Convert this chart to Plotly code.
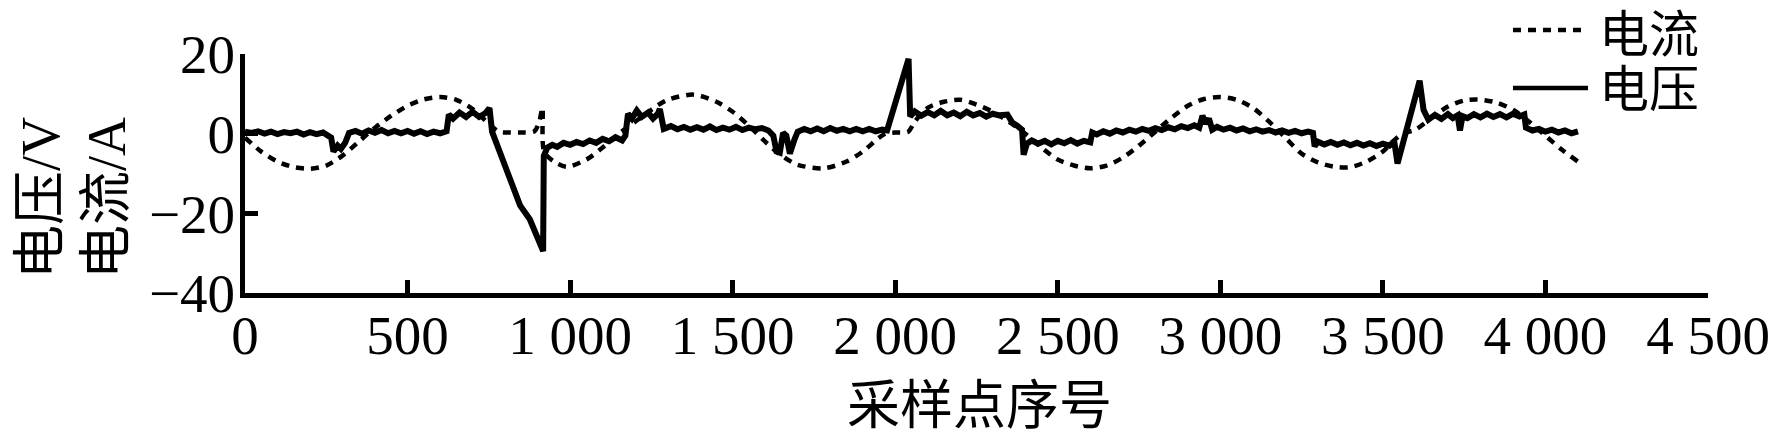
import plotly.graph_objects as go

# ---------------- data ----------------
voltage_n = [0, 20, 40, 60, 80, 100, 120, 140, 160, 180, 200, 220, 240, 255, 265, 272, 285, 295, 308, 320,
             340, 360, 380, 400, 420, 440, 460, 480, 500, 520, 540, 560, 580, 600, 620, 627, 640, 660, 680, 700,
             720, 740, 752, 760, 790, 811, 830, 846, 876, 900, 917, 919, 930, 945, 960, 980, 1000, 1020, 1040, 1060,
             1080, 1100, 1120, 1140, 1160, 1170, 1178, 1190, 1205, 1220, 1240, 1255, 1270, 1276, 1288, 1310, 1330, 1350, 1370, 1390,
             1410, 1430, 1450, 1470, 1490, 1510, 1530, 1550, 1570, 1590, 1610, 1625, 1635, 1645, 1655, 1665, 1676, 1690, 1700, 1720,
             1740, 1760, 1780, 1800, 1820, 1840, 1860, 1880, 1900, 1920, 1940, 1960, 1975, 2041, 2046, 2060, 2080, 2100, 2120, 2140,
             2160, 2180, 2200, 2220, 2240, 2260, 2280, 2300, 2320, 2345, 2360, 2375, 2390, 2395, 2405, 2420, 2440, 2460, 2480, 2500,
             2520, 2540, 2560, 2580, 2600, 2606, 2620, 2640, 2660, 2680, 2700, 2720, 2740, 2760, 2780, 2800, 2820, 2840, 2860, 2880,
             2900, 2920, 2935, 2945, 2955, 2965, 2975, 2990, 3010, 3030, 3050, 3070, 3090, 3110, 3130, 3150, 3170, 3190, 3210, 3230,
             3250, 3270, 3285, 3290, 3300, 3320, 3340, 3360, 3380, 3400, 3420, 3440, 3460, 3480, 3500, 3520, 3535, 3545, 3613, 3625,
             3640, 3660, 3680, 3700, 3715, 3730, 3737, 3745, 3760, 3780, 3800, 3820, 3840, 3860, 3880, 3900, 3920, 3935, 3940, 3960,
             3980, 4000, 4020, 4040, 4060, 4080, 4100]
voltage_v = [0.5, 0.2, 0.6, 0.0, 0.5, -0.1, 0.4, 0.1, 0.5, -0.2, 0.4, -0.1, 0.3, -0.6, -1.0, -4.5, -3.0, -3.8, -2.3, 0.2,
             0.7, 0.0, 0.8, 0.2, 0.9, 0.1, 0.7, 0.1, 0.7, 0.0, 0.6, -0.1, 0.5, 0.1, 0.6, 4.8, 3.8, 5.3, 4.2, 5.5,
             4.2, 5.2, 6.4, 0.5, -6.0, -11.4, -15.5, -18.0, -21.5, -26.0, -29.5, -5.6, -3.5, -2.8, -3.3, -2.3, -2.8, -2.1, -2.6, -1.7,
             -2.3, -1.3, -1.9, -0.9, -1.7, -0.5, 5.0, 3.8, 5.8, 4.2, 5.3, 3.8, 5.0, 6.2, 1.2, 1.9, 1.1, 1.7, 1.0, 1.6,
             1.0, 1.8, 0.9, 1.5, 1.0, 1.7, 0.9, 1.5, 1.1, 1.4, 0.8, -0.5, -4.5, -4.8, 0.2, -0.5, -5.0, -1.5, 0.5, 1.2,
             0.6, 1.3, 0.6, 1.4, 0.7, 1.2, 0.6, 1.2, 0.6, 1.2, 0.6, 1.0, 0.8, 18.8, 4.3, 5.6, 4.5, 5.4, 4.6, 5.7,
             4.6, 5.3, 4.4, 5.5, 4.6, 5.2, 4.3, 5.0, 4.6, 4.8, 2.8, 2.0, 1.0, -5.3, -2.5, -1.7, -2.5, -1.8, -2.7, -1.8,
             -2.4, -1.6, -2.5, -1.8, -2.2, 0.3, -0.2, 0.6, 0.0, 0.8, 0.3, 1.0, 0.5, 1.2, 0.7, 1.4, 0.9, 1.6, 1.1, 1.9,
             1.4, 2.1, 1.5, 4.5, 2.5, 3.8, 1.0, 1.7, 1.0, 1.5, 0.8, 1.3, 0.6, 1.1, 0.5, 0.9, 0.3, 0.8, 0.2, 0.7,
             0.1, 0.5, 0.2, -3.2, -2.0, -2.7, -2.1, -2.8, -2.2, -2.9, -2.3, -3.0, -2.4, -3.1, -2.5, -3.0, -2.0, -7.5, 13.3, 6.0,
             3.5, 4.7, 3.7, 4.9, 3.9, 4.6, 0.8, 4.4, 3.9, 4.9, 4.1, 5.0, 4.2, 4.9, 4.1, 5.0, 4.3, 4.8, 1.5, 0.8,
             1.2, 0.5, 1.0, 0.3, 0.8, 0.1, 0.6]

current_n = [0, 50, 100, 150, 200, 250, 300, 350, 400, 450, 500, 550, 600, 650, 700, 750, 780, 800, 850, 890,
             905, 915, 920, 950, 990, 1050, 1100, 1150, 1200, 1250, 1300, 1380, 1450, 1500, 1550, 1600, 1650, 1700, 1780, 1850,
             1900, 1950, 1970, 2000, 2040, 2060, 2100, 2150, 2200, 2250, 2300, 2350, 2400, 2450, 2500, 2550, 2600, 2650, 2700, 2750,
             2800, 2850, 2900, 2950, 3000, 3050, 3100, 3150, 3200, 3250, 3300, 3350, 3400, 3450, 3500, 3530, 3560, 3600, 3650, 3700,
             3750, 3790, 3850, 3900, 3950, 4000, 4050, 4100]
current_v = [-1.0, -4.5, -7.0, -8.4, -8.8, -8.0, -5.5, -2.0, 1.5, 4.5, 7.0, 8.6, 9.2, 8.5, 6.2, 2.5, 0.5, 0.3, 0.3, 0.6,
             3.0, 6.5, -4.5, -7.0, -8.3, -6.5, -3.5, 0.0, 3.0, 6.0, 8.5, 9.8, 8.0, 5.5, 2.0, -2.0, -5.5, -7.8, -8.7, -7.0,
             -4.5, -1.0, 0.0, 0.3, 0.5, 3.0, 6.5, 8.0, 8.5, 7.3, 5.5, 3.0, 0.0, -3.5, -6.5, -8.0, -8.7, -8.0, -6.0, -3.0,
             0.5, 4.0, 7.0, 8.7, 9.2, 8.5, 6.5, 3.0, -1.0, -5.0, -7.2, -8.3, -8.4, -7.0, -4.5, -2.0, 0.0, 1.0, 4.0, 6.8,
             8.3, 8.6, 7.8, 6.0, 3.0, -0.5, -4.0, -7.0]

x_tickvals = [0, 500, 1000, 1500, 2000, 2500, 3000, 3500, 4000, 4500]
x_ticktext = ["0", "500", "1 000", "1 500", "2 000", "2 500", "3 000", "3 500", "4 000", "4 500"]
y_tickvals = [-40, -20, 0, 20]
y_ticktext = ["\u221240", "\u221220", "0", "20"]
series_names = ["电流", "电压"]
y_title_lines = ["电压/V", "电流/A"]
x_title = "采样点序号"

# ---------------- figure ----------------
# The page body has an 8 px margin, so the figure is made 8 px smaller and all
# page-pixel positions below are shifted by that offset.
OFF = 8
FONT = "Liberation Serif, Times New Roman, serif"
CJK = "Liberation Serif, Noto Sans CJK SC, sans-serif"
W, H = 1778 - OFF, 442 - OFF
AX_L, AX_R, AX_T, AX_B = 245, 1708, 54, 293   # page pixel positions of the plot area
L, T = AX_L - OFF, AX_T - OFF
R, B = 1778 - AX_R, 442 - AX_B
pw, ph = W - L - R, H - T - B

def px_x(p):
    return (p - OFF - L) / pw

def px_y(p):
    return (H - B - (p - OFF)) / ph

fig = go.Figure()
fig.add_trace(go.Scatter(x=current_n, y=current_v, mode="lines", name=series_names[0],
                         line=dict(color="black", width=4.5, dash="8px,7px", shape="spline", smoothing=0.8),
                         showlegend=False))
fig.add_trace(go.Scatter(x=voltage_n, y=voltage_v, mode="lines", name=series_names[1],
                         line=dict(color="black", width=6), showlegend=False))

axis_common = dict(showline=True, linecolor="black", linewidth=5, ticks="inside", ticklen=13,
                   tickwidth=5, tickcolor="black", showgrid=False, zeroline=False, mirror=False,
                   automargin=False, tickfont=dict(family=FONT, size=55, color="black"))
fig.update_xaxes(range=[0, 4500], tickvals=x_tickvals, ticktext=x_ticktext, ticklabelstandoff=-10,
                 **axis_common)
fig.update_yaxes(range=[-40, 20], tickvals=y_tickvals, ticktext=y_ticktext, ticklabelstandoff=-6,
                 **axis_common)

# axis titles
fig.add_annotation(text=x_title, xref="paper", yref="paper", x=px_x(980), y=px_y(406),
                   xanchor="center", yanchor="middle", showarrow=False, borderpad=0,
                   font=dict(family=CJK, size=53, color="black"))
for cx, line in zip([41, 107], y_title_lines):
    fig.add_annotation(text=line, xref="paper", yref="paper", x=px_x(cx), y=px_y(198),
                       xanchor="center", yanchor="middle", showarrow=False, textangle=-90,
                       borderpad=0, font=dict(family=CJK, size=54, color="black"))

# legend (keys drawn as short line samples + labels)
leg_x0, leg_x1, leg_tx = 1513, 1588, 1598
for (yy, ty, dash, name) in [(30, 35, "8px,7px", series_names[0]), (88, 90, "solid", series_names[1])]:
    fig.add_shape(type="line", xref="paper", yref="paper", x0=px_x(leg_x0), x1=px_x(leg_x1),
                  y0=px_y(yy), y1=px_y(yy), line=dict(color="black", width=4.5, dash=dash))
    fig.add_annotation(text=name, xref="paper", yref="paper", x=px_x(leg_tx), y=px_y(ty),
                       xanchor="left", yanchor="middle", showarrow=False, borderpad=0,
                       font=dict(family=CJK, size=50, color="black"))

fig.update_layout(width=W, height=H, margin=dict(l=L, r=R, t=T, b=B, pad=0, autoexpand=False),
                  paper_bgcolor="white", plot_bgcolor="white", showlegend=False)

fig.write_html("out.html")
